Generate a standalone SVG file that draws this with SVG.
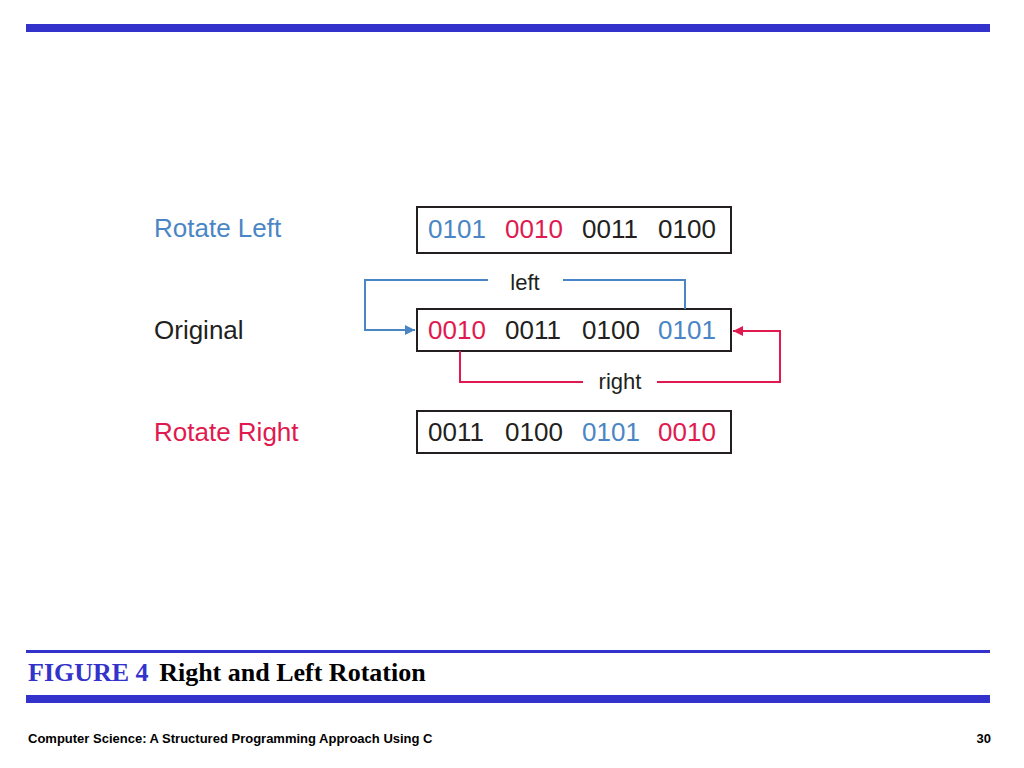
<svg xmlns="http://www.w3.org/2000/svg" width="1024" height="768" viewBox="0 0 1024 768">
<style>
.t{font-family:"Liberation Sans",Arial,sans-serif;font-size:26px;fill:#231f20}
.b{fill:#4a86c5}.r{fill:#e0194f}
.box{fill:#fff;stroke:#231f20;stroke-width:2}
.cb{fill:none;stroke:#4a86c5;stroke-width:2}
.cr{fill:none;stroke:#e0194f;stroke-width:2}
</style>
<defs>
<marker id="ab" viewBox="0 0 10 10" refX="10" refY="5" markerWidth="10" markerHeight="10" markerUnits="userSpaceOnUse" orient="auto"><path d="M0,0L10,5L0,10z" fill="#4a86c5"/></marker>
<marker id="ar" viewBox="0 0 10 10" refX="10" refY="5" markerWidth="10" markerHeight="10" markerUnits="userSpaceOnUse" orient="auto"><path d="M0,0L10,5L0,10z" fill="#e0194f"/></marker>
</defs>
<rect width="1024" height="768" fill="#fff"/>
<rect x="26" y="24" width="964" height="8" fill="#3333cc"/>
<g id="labels">
<text x="154" y="237" class="t b">Rotate Left</text>
<text x="154" y="339" class="t">Original</text>
<text x="154" y="441" class="t r">Rotate Right</text>
</g>
<g id="rotleft"><rect x="417" y="207" width="314" height="46" class="box"/>
<text x="428" y="238" class="t"><tspan class="b">0101</tspan> <tspan class="r" x="505">0010</tspan><tspan x="582">0011</tspan><tspan x="658">0100</tspan></text></g>
<g id="original"><rect x="417" y="309" width="314" height="42" class="box"/>
<text x="428" y="339" class="t"><tspan class="r">0010</tspan><tspan x="505">0011</tspan><tspan x="582">0100</tspan><tspan class="b" x="658">0101</tspan></text></g>
<g id="rotright"><rect x="417" y="411" width="314" height="42" class="box"/>
<text x="428" y="441" class="t"><tspan>0011</tspan><tspan x="505">0100</tspan><tspan class="b" x="582">0101</tspan><tspan class="r" x="658">0010</tspan></text></g>
<g id="connectors">
<path d="M685,309V280H563" class="cb"/>
<path d="M488,280H365V330H415" class="cb" marker-end="url(#ab)"/>
<text x="525" y="290" class="t" font-size="22" text-anchor="middle" style="font-size:22px">left</text>
<path d="M460,351V382H583" class="cr"/>
<path d="M657,382H780V331H733" class="cr" marker-end="url(#ar)"/>
<text x="620" y="389" class="t" text-anchor="middle" style="font-size:22px">right</text>
</g>
<rect x="26" y="650" width="964" height="3" fill="#3333cc"/>
<text x="28" y="681" font-family="Liberation Serif,serif" font-weight="bold" font-size="26" fill="#3333cc">FIGURE 4 <tspan fill="#000" dx="4">Right and Left Rotation</tspan></text>
<rect x="26" y="695" width="964" height="8" fill="#3333cc"/>
<text x="28" y="743" font-family="Liberation Sans,Arial,sans-serif" font-weight="bold" font-size="13" fill="#000">Computer Science: A Structured Programming Approach Using C</text>
<text x="991" y="743" font-family="Liberation Sans,Arial,sans-serif" font-weight="bold" font-size="13" fill="#000" text-anchor="end">30</text>
</svg>
